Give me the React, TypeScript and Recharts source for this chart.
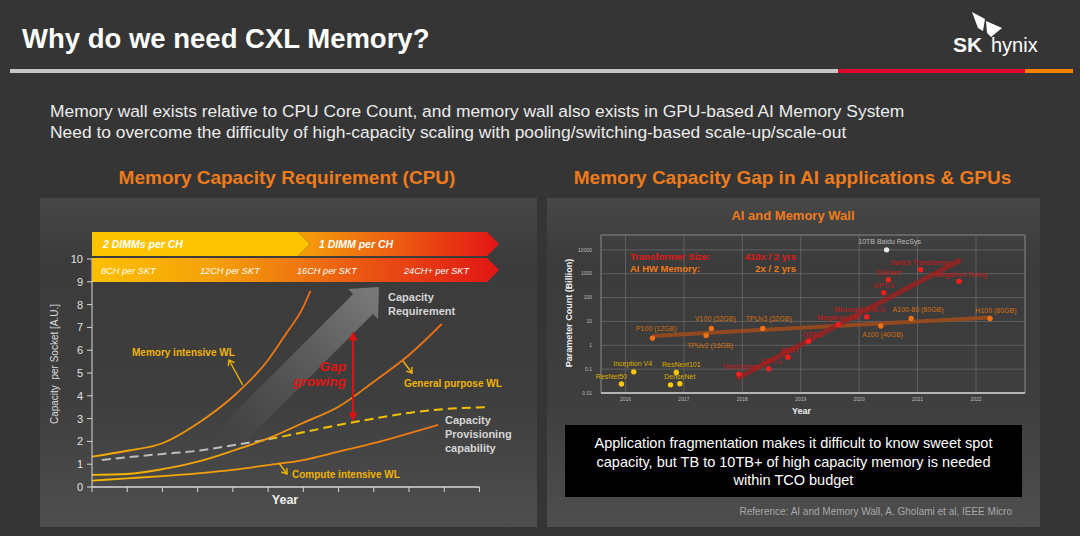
import {
  LineChart,
  Line,
  XAxis,
  YAxis,
  ReferenceLine,
  ComposedChart,
  Scatter,
  CartesianGrid,
  ReferenceArea,
} from "recharts";

const FONT = '"Liberation Sans", Arial, sans-serif';
const ORANGE = "#ef7b1b";

// ---- left chart: capacity requirement (arbitrary units) per year step ----
const yearSteps = [0, 1, 2, 3, 4, 5, 6, 7, 8, 9, 10, 11];
const capacityTicks = [0, 1, 2, 3, 4, 5, 6, 7, 8, 9, 10];

const memIntensiveX = [0, 1, 2, 3, 4, 5, 5.5, 6, 6.2];
const memIntensiveY = [1.33, 1.59, 1.92, 2.79, 3.96, 5.57, 6.7, 7.9, 8.6];
const generalX = [0, 1, 2, 3, 4, 5, 6, 7, 8, 9, 9.93];
const generalY = [0.53, 0.57, 0.78, 1.11, 1.59, 2.13, 2.82, 3.52, 4.62, 5.79, 7.15];
const computeX = [0, 1, 2, 3, 4, 5, 6, 7, 8, 9, 9.83];
const computeY = [0.28, 0.38, 0.48, 0.6, 0.75, 0.96, 1.18, 1.55, 1.92, 2.35, 2.72];
const provisionX = [0.28, 1, 2, 3, 4, 5, 6, 7, 8, 9, 10, 11.24];
const provisionY = [1.18, 1.3, 1.45, 1.59, 1.83, 2.09, 2.4, 2.72, 3.0, 3.25, 3.42, 3.5];

const dimmLabels = ["2 DIMMs per CH", "1 DIMM per CH"];
const channelLabels = ["8CH per SKT", "12CH per SKT", "16CH per SKT", "24CH+ per SKT"];

// ---- right chart: AI and Memory Wall (log scale, billions) ----
const aiYears = [2016, 2017, 2018, 2019, 2020, 2021, 2022];
const paramTicks = [0.01, 0.1, 1, 10, 100, 1000, 10000];

const cnnNames = ["ResNet50", "Inception V4", "", "DenseNet", "ResNext101"];
const cnnYears = [2015.93, 2016.14, 2016.77, 2016.93, 2016.87];
const cnnParams = [0.024, 0.077, 0.022, 0.0245, 0.073];

const hwNames = ["P100 (12GB)", "TPUv2 (16GB)", "V100 (32GB)", "TPUv3 (32GB)", "A100 (40GB)", "A100-80 (80GB)", "H100 (80GB)"];
const hwYears = [2016.46, 2017.38, 2017.47, 2018.35, 2020.37, 2020.89, 2022.24];
const hwMemory = [2.0, 2.6, 5.1, 5.1, 6.4, 13.3, 13.3];

const nlpNames = ["Transformer", "GPT-1", "BERT", "GPT-2", "Megatron-LM", "Microsoft T-NLG", "GPT-3", "GShard", "Switch Transformer", "Megatron-Turing"];
const nlpYears = [2017.94, 2018.45, 2018.78, 2019.13, 2019.64, 2020.13, 2020.42, 2020.5, 2021.05, 2021.71];
const nlpParams = [0.062, 0.103, 0.316, 1.47, 7.5, 15.6, 162, 562, 1468, 479];

const recsysNames = ["10TB Baidu RecSys"];
const recsysYears = [2020.47];
const recsysParams = [10000];

const hwTrendYears = [2016.46, 2022.24];
const hwTrendValues = [2.45, 14.7];
const nlpTrendYears = [2017.9, 2021.74];
const nlpTrendValues = [0.04, 3860];

// label offsets (px) from each dot
const labelOffset: Record<string, [number, number]> = {
  ResNet50: [-10, -7],
  "Inception V4": [-1, -8],
  DenseNet: [0, -7],
  ResNext101: [5, -8],
  "P100 (12GB)": [4, -10],
  "TPUv2 (16GB)": [4, 10],
  "V100 (32GB)": [4, -10],
  "TPUv3 (32GB)": [6, -10],
  "A100 (40GB)": [2, 8],
  "A100-80 (80GB)": [7, -9],
  "H100 (80GB)": [6, -8],
  Transformer: [2, -8],
  "GPT-1": [3, -7],
  BERT: [2, -7],
  "GPT-2": [4, -7],
  "Megatron-LM": [0, -7],
  "Microsoft T-NLG": [-7, -7],
  "GPT-3": [0, -7],
  GShard: [0, -7],
  "Switch Transformer": [0, -7],
  "Megatron-Turing": [2, -7],
  "10TB Baidu RecSys": [3, -8],
};

const toPoints = (xs: number[], ys: number[], names?: string[]) =>
  xs.map((x, i) => ({ x, y: ys[i], name: names ? names[i] : "" }));

const dotShape = (fill: string, textFill: string) => (props: any) => {
  const { cx, cy, payload } = props;
  const name: string = payload?.name ?? "";
  const off = labelOffset[name] ?? [0, -7];
  return (
    <g>
      <circle cx={cx} cy={cy} r={2.7} fill={fill} />
      {name && (
        <text
          x={cx + off[0]}
          y={cy + off[1]}
          textAnchor="middle"
          dominantBaseline="central"
          fontSize={7}
          fill={textFill}
          fontFamily={FONT}
        >
          {name}
        </text>
      )}
    </g>
  );
};

function Pointer({ x1, y1, x2, y2, color }: { x1: number; y1: number; x2: number; y2: number; color: string }) {
  const len = Math.hypot(x2 - x1, y2 - y1);
  const dx = (x2 - x1) / len;
  const dy = (y2 - y1) / len;
  const h = 5;
  const w = 3.5;
  const p1 = `${x2 - h * dx + w * dy},${y2 - h * dy - w * dx}`;
  const p2 = `${x2 - h * dx - w * dy},${y2 - h * dy + w * dx}`;
  return (
    <g stroke={color} strokeWidth={1.4} fill="none">
      <line x1={x1} y1={y1} x2={x2} y2={y2} />
      <polyline points={`${p1} ${x2},${y2} ${p2}`} />
    </g>
  );
}

function CpuChart() {
  return (
    <LineChart width={497} height={329} margin={{ top: 61, right: 47, bottom: 20, left: 0 }}>
      <defs>
        <linearGradient id="memGrad" x1="0" y1="0" x2="1" y2="0">
          <stop offset="0" stopColor="#f4b000" />
          <stop offset="1" stopColor="#ee6c12" />
        </linearGradient>
        <linearGradient id="genGrad" x1="0" y1="0" x2="1" y2="0">
          <stop offset="0" stopColor="#f5b800" />
          <stop offset="0.5" stopColor="#f29a0a" />
          <stop offset="1" stopColor="#ec6a14" />
        </linearGradient>
        <linearGradient id="compGrad" x1="0" y1="0" x2="1" y2="0">
          <stop offset="0" stopColor="#f5b800" />
          <stop offset="1" stopColor="#ee7412" />
        </linearGradient>
        <linearGradient id="provGrad" x1="0" y1="0" x2="1" y2="0">
          <stop offset="0" stopColor="#bdbdbd" />
          <stop offset="0.44" stopColor="#bdbdbd" />
          <stop offset="0.44" stopColor="#f2c200" />
          <stop offset="1" stopColor="#f2c200" />
        </linearGradient>
      </defs>
      <XAxis
        type="number"
        dataKey="x"
        domain={[0, 11.3]}
        ticks={yearSteps}
        allowDataOverflow
        axisLine={false}
        tickLine={{ stroke: "#d8d8d8" }}
        tickSize={5}
        tickFormatter={() => ""}
        height={20}
      />
      <YAxis
        type="number"
        domain={[0, 10]}
        ticks={capacityTicks}
        width={52}
        axisLine={{ stroke: "#d8d8d8" }}
        tickLine={{ stroke: "#d8d8d8" }}
        tickSize={5}
        tickMargin={4}
        tick={{ fill: "#e2e2e2", fontSize: 11, fontFamily: FONT }}
      />
      <ReferenceLine segment={[{ x: 0, y: 0 }, { x: 11, y: 0 }]} stroke="#d8d8d8" strokeWidth={1.5} />
      <Line data={toPoints(provisionX, provisionY)} dataKey="y" type="monotone" stroke="url(#provGrad)" strokeWidth={2} strokeDasharray="9 5" dot={false} isAnimationActive={false} />
      <Line data={toPoints(computeX, computeY)} dataKey="y" type="monotone" stroke="url(#compGrad)" strokeWidth={1.8} dot={false} isAnimationActive={false} />
      <Line data={toPoints(generalX, generalY)} dataKey="y" type="monotone" stroke="url(#genGrad)" strokeWidth={1.8} dot={false} isAnimationActive={false} />
      <Line data={toPoints(memIntensiveX, memIntensiveY)} dataKey="y" type="monotone" stroke="url(#memGrad)" strokeWidth={1.8} dot={false} isAnimationActive={false} />
    </LineChart>
  );
}

function AiChart() {
  return (
    <ComposedChart width={493} height={329} margin={{ top: 37, right: 15, bottom: 114, left: 0 }}>
      <CartesianGrid stroke="#686868" strokeWidth={0.8} />
      <XAxis
        type="number"
        dataKey="x"
        domain={[2015.58, 2022.84]}
        ticks={aiYears}
        tick={{ fill: "#bdbdbd", fontSize: 5, fontFamily: FONT }}
        tickLine={false}
        tickSize={0}
        tickMargin={4}
        axisLine={{ stroke: "#b4b4b4", strokeWidth: 2 }}
        height={20}
      />
      <YAxis
        type="number"
        dataKey="y"
        scale="log"
        domain={[0.01, 42000]}
        ticks={paramTicks}
        tickFormatter={(v) => String(v)}
        width={54}
        tickSize={0}
        tickMargin={9}
        axisLine={false}
        tickLine={false}
        tick={{ fill: "#bdbdbd", fontSize: 5, fontFamily: FONT }}
      />
      <ReferenceArea x1={2015.58} x2={2022.84} y1={0.01} y2={42000} fill="none" stroke="#7a7a7a" />
      <Line data={toPoints(hwTrendYears, hwTrendValues)} dataKey="y" stroke="#9a4a1c" strokeOpacity={0.9} strokeWidth={4} dot={false} isAnimationActive={false} />
      <Line data={toPoints(nlpTrendYears, nlpTrendValues)} dataKey="y" stroke="#962222" strokeOpacity={0.85} strokeWidth={5} dot={false} isAnimationActive={false} />
      <Scatter data={toPoints(cnnYears, cnnParams, cnnNames)} shape={dotShape("#ffc800", "#dcae00")} isAnimationActive={false} />
      <Scatter data={toPoints(hwYears, hwMemory, hwNames)} shape={dotShape("#f07212", "#d4700f")} isAnimationActive={false} />
      <Scatter data={toPoints(nlpYears, nlpParams, nlpNames)} shape={dotShape("#ff1c1c", "#c81818")} isAnimationActive={false} />
      <Scatter data={toPoints(recsysYears, recsysParams, recsysNames)} shape={dotShape("#e8e8e8", "#bdbdbd")} isAnimationActive={false} />
    </ComposedChart>
  );
}

export default function App() {
  const abs = (left: number, top: number): React.CSSProperties => ({ position: "absolute", left, top });
  return (
    <div style={{ position: "absolute", left: 0, top: 0, width: 1080, height: 536, background: "#353535", overflow: "hidden", fontFamily: FONT }}>
      {/* background layer */}
      <svg width={1080} height={536} style={abs(0, 0)}>
        <defs>
          <linearGradient id="panelGrad" x1="0" y1="0" x2="0" y2="1">
            <stop offset="0" stopColor="#474747" />
            <stop offset="0.2" stopColor="#3b3b3b" />
            <stop offset="0.6" stopColor="#3e3e3e" />
            <stop offset="1" stopColor="#4e4e4e" />
          </linearGradient>
          <linearGradient id="bigArrow" gradientUnits="userSpaceOnUse" x1="200" y1="466" x2="372" y2="298">
            <stop offset="0" stopColor="#3c3c3c" stopOpacity="0" />
            <stop offset="0.35" stopColor="#505050" stopOpacity="0.7" />
            <stop offset="1" stopColor="#777777" />
          </linearGradient>
        </defs>
        <rect x={10} y={69} width={828} height={4} fill="#c6c6c6" />
        <rect x={838} y={69} width={187} height={4} fill="#e4032c" />
        <rect x={1025} y={69} width={48} height={4} fill="#f28200" />
        <rect x={40} y={198} width={497} height={329} fill="url(#panelGrad)" />
        <rect x={547} y={198} width={493} height={329} fill="url(#panelGrad)" />
        <polygon
          points="190.5,456.7 353.1,294.1 348,289 379,287 378,319 372.9,313.9 210.3,476.5"
          fill="url(#bigArrow)"
        />
        <rect x={565} y={425} width={457} height={72} fill="#000" />
      </svg>

      <div style={abs(40, 198)}>
        <CpuChart />
      </div>
      <div style={abs(547, 198)}>
        <AiChart />
      </div>

      {/* annotation layer */}
      <svg width={1080} height={536} style={abs(0, 0)} fontFamily={FONT}>
        <defs>
          <linearGradient id="bannerTop" gradientUnits="userSpaceOnUse" x1="298" y1="0" x2="499" y2="0">
            <stop offset="0" stopColor="#f4a00c" />
            <stop offset="0.5" stopColor="#ec5c12" />
            <stop offset="1" stopColor="#e21414" />
          </linearGradient>
          <linearGradient id="bannerBottom" gradientUnits="userSpaceOnUse" x1="92" y1="0" x2="499" y2="0">
            <stop offset="0" stopColor="#fdc000" />
            <stop offset="0.3" stopColor="#f4a00a" />
            <stop offset="0.6" stopColor="#ec6412" />
            <stop offset="1" stopColor="#e01515" />
          </linearGradient>
        </defs>

        {/* header */}
        <text x={22} y={48} fontSize={27.5} fontWeight="bold" fill="#ffffff">Why do we need CXL Memory?</text>
        <g fill="#ffffff">
          <polygon points="972,12 985,19 983,31 978,28" />
          <polygon points="986,21 1002,28 991,37 987,33" />
        </g>
        <text x={953} y={52} fontSize={21} fontWeight="bold" fill="#ffffff">SK</text>
        <text x={991} y={52} fontSize={20} fill="#ffffff">hynix</text>

        <text x={50} y={117} fontSize={17.4} fill="#ececec">
          Memory wall exists relative to CPU Core Count, and memory wall also exists in GPU-based AI Memory System
        </text>
        <text x={50} y={138} fontSize={17.4} fill="#ececec">
          Need to overcome the difficulty of high-capacity scaling with pooling/switching-based scale-up/scale-out
        </text>

        <text x={287} y={184} fontSize={19} fontWeight="bold" fill={ORANGE} textAnchor="middle">Memory Capacity Requirement (CPU)</text>
        <text x={792.5} y={184} fontSize={19} fontWeight="bold" fill={ORANGE} textAnchor="middle">Memory Capacity Gap in AI applications &amp; GPUs</text>

        {/* banners */}
        <polygon points="92,232 298,232 310,244 298,256 92,256" fill="#fec400" />
        <polygon points="298,232 487,232 499,244 487,256 298,256 310,244" fill="url(#bannerTop)" />
        <polygon points="92,258 487,258 499,270 487,282 92,282" fill="url(#bannerBottom)" />
        <g fill="#ffffff" fontStyle="italic" fontWeight="bold" fontSize={10.5}>
          <text x={103} y={248}>{dimmLabels[0]}</text>
          <text x={319} y={248}>{dimmLabels[1]}</text>
        </g>
        <g fill="#ffffff" fontStyle="italic" fontSize={9.2}>
          <text x={101} y={274}>{channelLabels[0]}</text>
          <text x={200} y={274}>{channelLabels[1]}</text>
          <text x={297} y={274}>{channelLabels[2]}</text>
          <text x={404} y={274}>{channelLabels[3]}</text>
        </g>

        {/* left chart annotations */}
        <text
          x={58}
          y={364}
          fontSize={10}
          fill="#dcdcdc"
          textAnchor="middle"
          transform="rotate(-90 58 364)"
          style={{ whiteSpace: "pre" }}
        >
          {"Capacity  per Socket [A.U.]"}
        </text>
        <text x={285} y={504} fontSize={12.5} fontWeight="bold" fill="#eeeeee" textAnchor="middle">Year</text>

        <g fontSize={11} fontWeight="bold" fill="#d6d6d6">
          <text x={388} y={301}>Capacity</text>
          <text x={388} y={315}>Requirement</text>
          <text x={445} y={424}>Capacity</text>
          <text x={445} y={438}>Provisioning</text>
          <text x={445} y={452}>capability</text>
        </g>
        <g fontSize={13.6} fontWeight="bold" fontStyle="italic" fill="#e01414" textAnchor="end">
          <text x={346} y={371}>Gap</text>
          <text x={346} y={386}>growing</text>
        </g>
        <g fill="#e01010" stroke="#e01010">
          <line x1={353} y1={338} x2={353} y2={415} strokeWidth={2} />
          <polygon points="353,332 349,340 357,340" strokeWidth={0.5} />
          <polygon points="353,421 349,413 357,413" strokeWidth={0.5} />
        </g>

        <g fontSize={10} fontWeight="bold" fill="#f0b400">
          <text x={132} y={356}>Memory intensive WL</text>
          <text x={404} y={387}>General purpose WL</text>
          <text x={292} y={478}>Compute intensive WL</text>
        </g>
        <Pointer x1={242.7} y1={385} x2={229} y2={360} color="#f0b400" />
        <Pointer x1={403} y1={361} x2={412} y2={373} color="#f0b400" />
        <Pointer x1={279} y1={463} x2={287} y2={474} color="#f0b400" />

        {/* right chart annotations */}
        <text x={793} y={220} fontSize={13} fontWeight="bold" fill={ORANGE} textAnchor="middle">AI and Memory Wall</text>
        <g fontSize={9.5} fontWeight="bold">
          <text x={630} y={259.5} fill="#e01818">Transformer Size:</text>
          <text x={796} y={259.5} fill="#e01818" textAnchor="end">410x / 2 yrs</text>
          <text x={630} y={271.5} fill="#ee7a16">AI HW Memory:</text>
          <text x={796} y={271.5} fill="#ee7a16" textAnchor="end">2x / 2 yrs</text>
        </g>
        <text x={572} y={313} fontSize={9} fontWeight="bold" fill="#f0f0f0" textAnchor="middle" transform="rotate(-90 572 313)">
          Parameter Count (Billion)
        </text>
        <text x={801.5} y={414} fontSize={9} fontWeight="bold" fill="#f0f0f0" textAnchor="middle">Year</text>

        <g fontSize={14.5} fill="#ffffff" textAnchor="middle">
          <text x={793.5} y={448}>Application fragmentation makes it difficult to know sweet spot</text>
          <text x={793.5} y={467}>capacity, but TB to 10TB+ of high capacity memory is needed</text>
          <text x={793.5} y={485}>within TCO budget</text>
        </g>
        <text x={1012} y={515} fontSize={10} fill="#a8a8a8" textAnchor="end">
          Reference: AI and Memory Wall, A. Gholami et al, IEEE Micro
        </text>
      </svg>
    </div>
  );
}
